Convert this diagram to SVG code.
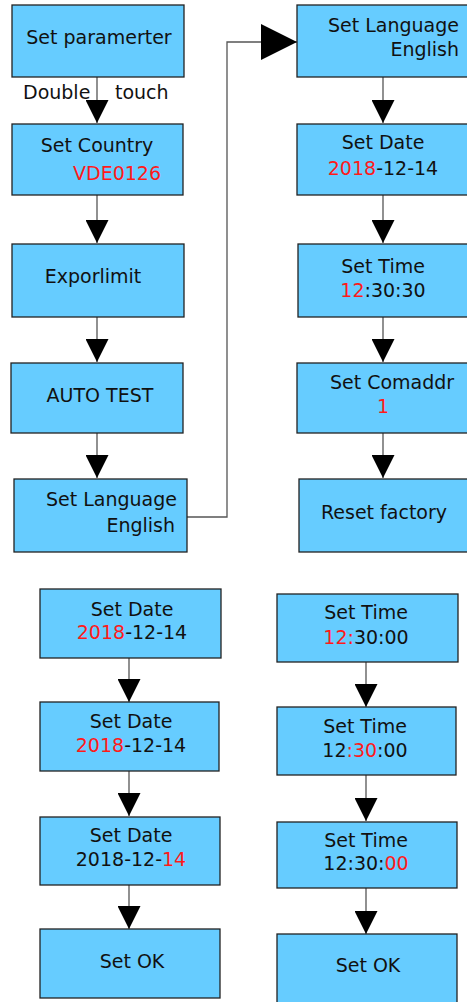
<svg xmlns="http://www.w3.org/2000/svg" width="467" height="1002" viewBox="0 0 467 1002">
<style>
.box{fill:#66CCFF;stroke:#222;stroke-width:1.3}
.t{font-family:"DejaVu Sans","Liberation Sans",sans-serif;font-size:19px;fill:#111}
.c{text-anchor:middle}
.e{text-anchor:end}
.r{fill:#FF1A1A}
.ln{fill:none;stroke:#555;stroke-width:1.3}
</style>
<defs>
<marker id="ah" viewBox="0 0 23 23" refX="23" refY="11.5" markerWidth="23" markerHeight="23" markerUnits="userSpaceOnUse" orient="auto"><path d="M0,0 L23,11.5 L0,23 Z" fill="#000"/></marker>
<marker id="ahb" viewBox="0 0 36 36" refX="36" refY="18" markerWidth="36" markerHeight="36" markerUnits="userSpaceOnUse" orient="auto"><path d="M0,0 L36,18 L0,36 Z" fill="#000"/></marker>
</defs>
<g id="connectors">
<line class="ln" x1="97" y1="77" x2="97" y2="123" marker-end="url(#ah)"/>
<line class="ln" x1="97" y1="195" x2="97" y2="243" marker-end="url(#ah)"/>
<line class="ln" x1="97" y1="317" x2="97" y2="362" marker-end="url(#ah)"/>
<line class="ln" x1="97" y1="433" x2="97" y2="478" marker-end="url(#ah)"/>
<polyline class="ln" points="187,517 227,517 227,42 297,42" marker-end="url(#ahb)"/>
<line class="ln" x1="383" y1="77" x2="383" y2="123" marker-end="url(#ah)"/>
<line class="ln" x1="383" y1="195" x2="383" y2="243" marker-end="url(#ah)"/>
<line class="ln" x1="383" y1="317" x2="383" y2="362" marker-end="url(#ah)"/>
<line class="ln" x1="383" y1="433" x2="383" y2="478" marker-end="url(#ah)"/>
<line class="ln" x1="129" y1="658" x2="129" y2="702" marker-end="url(#ah)"/>
<line class="ln" x1="129" y1="771" x2="129" y2="816" marker-end="url(#ah)"/>
<line class="ln" x1="129" y1="885" x2="129" y2="929" marker-end="url(#ah)"/>
<line class="ln" x1="366" y1="662" x2="366" y2="707" marker-end="url(#ah)"/>
<line class="ln" x1="366" y1="775" x2="366" y2="821" marker-end="url(#ah)"/>
<line class="ln" x1="366" y1="888" x2="366" y2="934" marker-end="url(#ah)"/>
<text class="t" x="23" y="99">Double</text>
<text class="t" x="115" y="99">touch</text>
</g>
<g id="n-set-param"><rect class="box" x="12" y="5" width="172" height="72"/><text class="t c" x="99" y="44">Set paramerter</text></g>
<g id="n-set-country"><rect class="box" x="12" y="124" width="171" height="71"/><text class="t c" x="97" y="152">Set Country</text><text class="t r" x="73" y="180">VDE0126</text></g>
<g id="n-exporlimit"><rect class="box" x="12" y="244" width="172" height="73"/><text class="t c" x="93" y="283">Exporlimit</text></g>
<g id="n-autotest"><rect class="box" x="11" y="363" width="172" height="70"/><text class="t c" x="100" y="402">AUTO TEST</text></g>
<g id="n-lang-left"><rect class="box" x="14" y="479" width="173" height="73"/><text class="t e" x="177" y="506">Set Language</text><text class="t e" x="175" y="532">English</text></g>
<g id="n-lang-right"><rect class="box" x="297" y="5" width="174" height="72"/><text class="t e" x="459" y="32">Set Language</text><text class="t e" x="459" y="56">English</text></g>
<g id="n-date-right"><rect class="box" x="297" y="124" width="174" height="71"/><text class="t c" x="383" y="149">Set Date</text><text class="t c" x="383" y="175"><tspan class="r">2018</tspan>-12-14</text></g>
<g id="n-time-right"><rect class="box" x="298" y="244" width="173" height="73"/><text class="t c" x="383" y="273">Set Time</text><text class="t c" x="383" y="297"><tspan class="r">12</tspan>:30:30</text></g>
<g id="n-comaddr"><rect class="box" x="297" y="363" width="174" height="70"/><text class="t c" x="392" y="389">Set Comaddr</text><text class="t c r" x="383" y="413">1</text></g>
<g id="n-reset"><rect class="box" x="299" y="479" width="172" height="73"/><text class="t c" x="384" y="519">Reset factory</text></g>
<g id="n-date1"><rect class="box" x="40" y="589" width="181" height="69"/><text class="t c" x="132" y="616">Set Date</text><text class="t c" x="132" y="639"><tspan class="r">2018</tspan>-12-14</text></g>
<g id="n-date2"><rect class="box" x="40" y="702" width="179" height="69"/><text class="t c" x="131" y="728">Set Date</text><text class="t c" x="131" y="752"><tspan class="r">2018</tspan>-12-14</text></g>
<g id="n-date3"><rect class="box" x="40" y="817" width="180" height="68"/><text class="t c" x="131" y="842">Set Date</text><text class="t c" x="131" y="866">2018-12-<tspan class="r">14</tspan></text></g>
<g id="n-ok-left"><rect class="box" x="40" y="929" width="180" height="69"/><text class="t c" x="132" y="968">Set OK</text></g>
<g id="n-time1"><rect class="box" x="277" y="594" width="181" height="68"/><text class="t c" x="366" y="619">Set Time</text><text class="t c" x="366" y="644"><tspan class="r">12:</tspan>30:00</text></g>
<g id="n-time2"><rect class="box" x="277" y="707" width="179" height="68"/><text class="t c" x="365" y="733">Set Time</text><text class="t c" x="365" y="757">12<tspan class="r">:30</tspan>:00</text></g>
<g id="n-time3"><rect class="box" x="277" y="822" width="180" height="66"/><text class="t c" x="366" y="847">Set Time</text><text class="t c" x="366" y="870">12:30:<tspan class="r">00</tspan></text></g>
<g id="n-ok-right"><rect class="box" x="277" y="934" width="180" height="80"/><text class="t c" x="368" y="972">Set OK</text></g>
</svg>
